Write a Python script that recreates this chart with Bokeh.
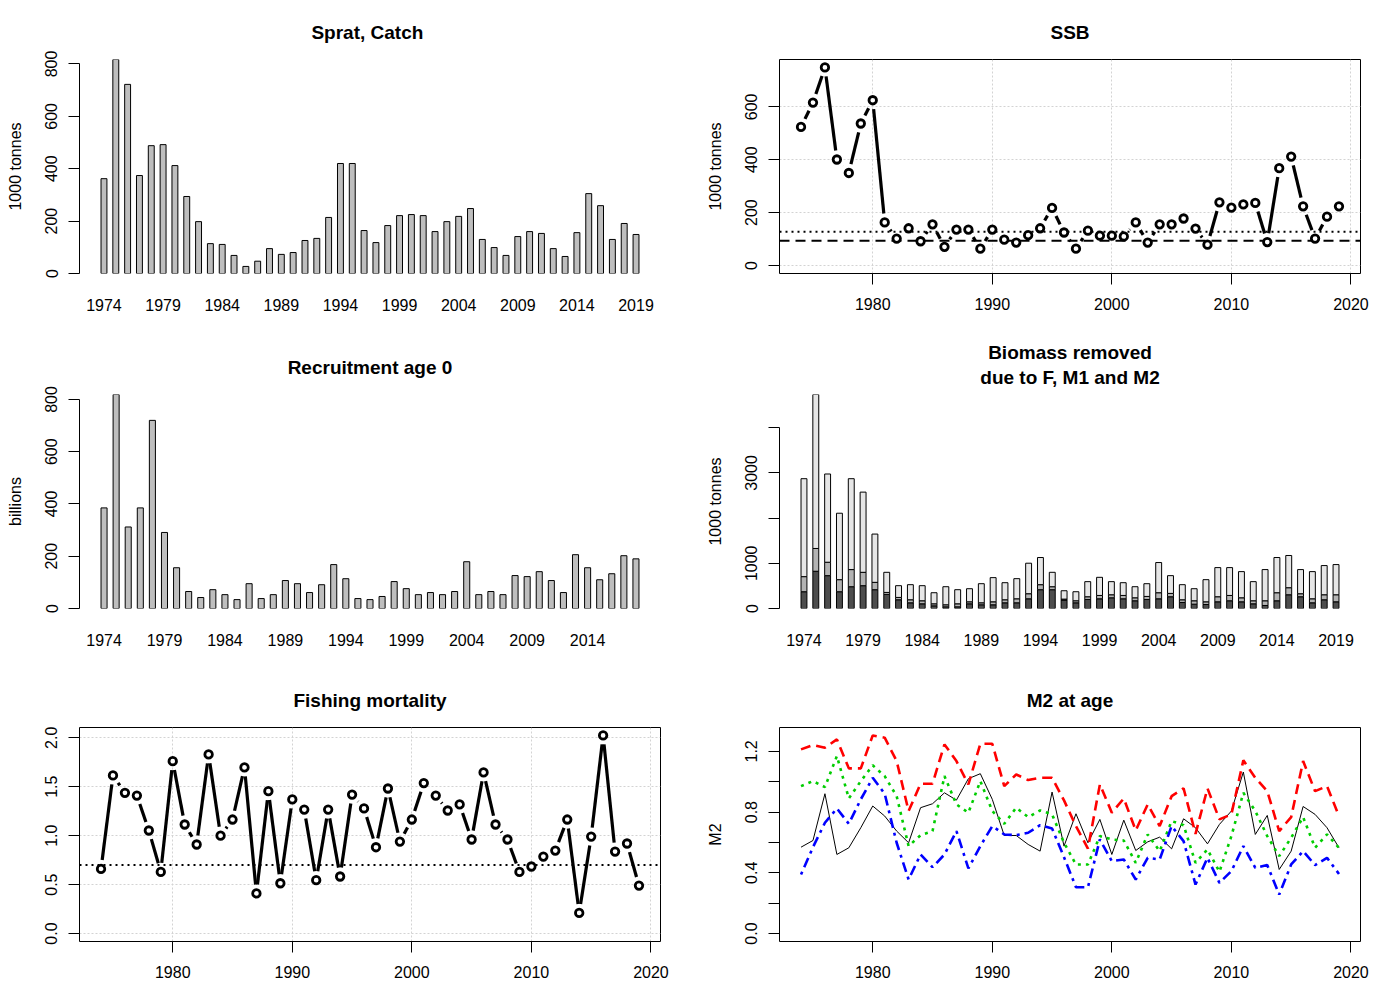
from bokeh.plotting import figure
from bokeh.models import Range1d, FixedTicker, Title
from bokeh.layouts import column, row
from bokeh.embed import file_html
from bokeh.resources import INLINE
import numpy as np

FONT = "Liberation Sans"

years = list(range(1974, 2020))
rec_years = list(range(1974, 2019))

catch = [362, 817, 722, 374, 488, 492, 412, 294, 198, 114, 111, 69, 27, 47, 95, 73,
         80, 126, 134, 214, 420, 420, 164, 118, 183, 221, 225, 221, 160, 198, 218, 248,
         130, 99, 69, 141, 160, 153, 95, 65, 156, 305, 259, 130, 191, 149]

recruit = [385, 819, 312, 385, 720, 291, 156, 65, 42, 72, 53, 34, 95, 38, 53, 107,
           95, 61, 91, 168, 114, 38, 34, 46, 103, 76, 53, 61, 53, 65, 179, 53,
           65, 53, 126, 122, 141, 107, 61, 206, 156, 110, 133, 202, 190]

ssb = [524, 616, 749, 401, 350, 537, 625, 163, 102, 141, 92, 156, 71, 136, 136, 64,
       136, 98, 87, 115, 141, 218, 125, 64, 132, 113, 113, 110, 163, 87, 156, 156,
       178, 140, 79, 239, 219, 231, 237, 89, 368, 412, 224, 102, 185, 224]
ssb_bpa = 128
ssb_blim = 94

removed_F = [371, 824, 727, 371, 482, 505, 416, 312, 193, 126, 104, 59, 37, 37, 104, 82,
             82, 126, 126, 215, 416, 416, 186, 126, 200, 215, 237, 215, 171, 200, 215, 260,
             134, 96, 89, 148, 171, 148, 104, 67, 171, 304, 260, 126, 193, 148]
removed_M1 = [334, 504, 297, 267, 379, 296, 163, 44, 52, 67, 67, 45, 45, 67, 44, 44,
              66, 67, 89, 112, 111, 66, 22, 45, 60, 74, 67, 74, 66, 67, 134, 74,
              59, 75, 59, 112, 118, 89, 67, 104, 178, 156, 67, 89, 111, 156]
removed_M2 = [2167, 3407, 1952, 1470, 2011, 1774, 1068, 445, 260, 334, 334, 245, 400, 312, 290, 423,
              535, 378, 445, 675, 601, 319, 185, 200, 334, 401, 290, 282, 245, 282, 668, 393,
              334, 267, 490, 645, 616, 579, 423, 690, 779, 713, 534, 601, 646, 668]

fbar = [0.66, 1.615, 1.438, 1.41, 1.053, 0.63, 1.761, 1.114, 0.91, 1.83, 1.0, 1.165, 1.697, 0.41, 1.455, 0.514,
        1.37, 1.267, 0.545, 1.267, 0.583, 1.42, 1.278, 0.882, 1.482, 0.94, 1.165, 1.537, 1.41, 1.257, 1.319, 0.961,
        1.646, 1.114, 0.961, 0.63, 0.685, 0.787, 0.848, 1.165, 0.211, 0.991, 2.024, 0.838, 0.92, 0.49]
f_ref = 0.7

m2_black = [0.569, 0.613, 0.921, 0.521, 0.565, 0.697, 0.84, 0.774, 0.675, 0.598, 0.829, 0.855, 0.927, 0.879, 1.02, 1.053,
            0.884, 0.646, 0.646, 0.587, 0.543, 0.932, 0.576, 0.789, 0.598, 0.752, 0.521, 0.747, 0.547, 0.604, 0.635, 0.558,
            0.756, 0.697, 0.591, 0.719, 0.807, 1.064, 0.653, 0.778, 0.422, 0.543, 0.837, 0.785, 0.697, 0.565]
m2_red = [1.213, 1.242, 1.224, 1.279, 1.088, 1.088, 1.305, 1.29, 1.136, 0.807, 0.987, 0.987, 1.246, 1.136, 0.982, 1.25,
          1.25, 0.971, 1.048, 1.011, 1.026, 1.026, 0.877, 0.708, 0.56, 0.982, 0.796, 0.89, 0.679, 0.851, 0.708, 0.905,
          0.956, 0.657, 0.956, 0.752, 0.785, 1.141, 1.026, 0.938, 0.675, 0.767, 1.136, 0.938, 0.971, 0.774]
m2_green = [0.971, 1.004, 0.965, 1.169, 0.89, 1.004, 1.108, 1.037, 0.905, 0.576, 0.648, 0.675, 1.037, 0.851, 0.796, 1.004,
            0.807, 0.723, 0.829, 0.767, 0.811, 0.785, 0.598, 0.455, 0.455, 0.642, 0.62, 0.613, 0.466, 0.653, 0.543, 0.741,
            0.714, 0.466, 0.554, 0.407, 0.642, 0.927, 0.807, 0.642, 0.51, 0.631, 0.767, 0.565, 0.653, 0.565]
m2_blue = [0.389, 0.569, 0.73, 0.824, 0.723, 0.884, 1.026, 0.921, 0.598, 0.356, 0.521, 0.437, 0.521, 0.675, 0.429, 0.576,
           0.708, 0.653, 0.648, 0.664, 0.714, 0.692, 0.503, 0.305, 0.305, 0.62, 0.477, 0.488, 0.356, 0.499, 0.488, 0.708,
           0.609, 0.323, 0.499, 0.334, 0.411, 0.576, 0.433, 0.451, 0.257, 0.455, 0.543, 0.451, 0.499, 0.393]

FW, FH = 581, 214
FIG_W = {0: 700, 1: 699}
FIG_H = 333
LEFT = {0: 79, 1: 79}
TOP = {0: 59, 1: 60, 2: 60}

TITLE_PROPS = Title.properties()


def add_title(p, text, standoff):
    kw = dict(text=text, align="center", text_font=FONT, text_font_size="19px",
              text_font_style="bold", text_color="black", standoff=standoff,
              text_line_height=1.2)
    if "text_align" in TITLE_PROPS:
        kw["text_align"] = "center"
    p.add_layout(Title(**kw), "above")


def make(col, rw, xr, yr, title, box):
    left = LEFT[col]
    top = TOP[rw]
    p = figure(frame_width=FW, frame_height=FH,
               x_range=Range1d(*xr), y_range=Range1d(*yr),
               output_backend="svg", toolbar_location=None,
               min_border_left=left, min_border_right=FIG_W[col] - FW - left,
               min_border_top=top, min_border_bottom=FIG_H - FH - top,
               title=None)
    p.background_fill_color = "white"
    p.border_fill_color = "white"
    p.outline_line_color = "black" if box else None
    p.outline_line_width = 1
    if len(title) == 1:
        add_title(p, title[0], 34)
    else:
        add_title(p, "\n".join(title), 13)
    for ax in (p.xaxis[0], p.yaxis[0]):
        ax.major_label_text_font = FONT
        ax.major_label_text_font_size = "16px"
        ax.major_label_text_color = "black"
        ax.axis_label_text_font = FONT
        ax.axis_label_text_font_size = "16px"
        ax.axis_label_text_font_style = "normal"
        ax.axis_label_text_color = "black"
        ax.minor_tick_line_color = None
        ax.major_tick_in = 0
        ax.major_tick_out = 11
        ax.major_tick_line_color = "black"
        ax.axis_line_color = "black"
    p.yaxis.major_label_orientation = "vertical"
    p.yaxis.major_label_standoff = 11
    p.yaxis.axis_label_standoff = 19
    p.xaxis.major_label_standoff = 13
    p.xgrid.grid_line_color = None
    p.ygrid.grid_line_color = None
    return p


def bar_xr(n):
    # barplot layout (space = 1): extent in year units
    lo = 1 - 0.04 * (2 * n - 1)
    hi = 2 * n + 0.04 * (2 * n - 1)
    return (1974 + (lo - 1.5) / 2, 1974 + (hi - 1.5) / 2)


def bar_xaxis(p, ticks):
    p.xaxis.ticker = FixedTicker(ticks=ticks)
    p.xaxis.axis_line_color = None
    p.xaxis.major_tick_line_color = None
    p.xaxis.major_tick_out = 0
    p.xaxis.major_label_standoff = 25


def line_xr():
    lo, hi = min(years), max(years)
    e = 0.04 * (hi - lo)
    return (lo - e, hi + e)


def line_yr(vmax):
    return (-0.04 * vmax, 1.04 * vmax)


def box_axes(p, yticks, grid):
    p.xaxis.ticker = FixedTicker(ticks=[1980, 1990, 2000, 2010, 2020])
    p.xaxis.bounds = (1980, 2020)
    p.yaxis.ticker = FixedTicker(ticks=yticks)
    p.yaxis.bounds = (yticks[0], yticks[-1])
    if grid:
        for g in (p.xgrid, p.ygrid):
            g.grid_line_color = "#d3d3d3"
            g.grid_line_dash = "2 2"
            g.grid_line_width = 1


def type_b(p, xs, ys, xr, yr, gap=9.0, lw=3.2):
    sx = FW / (xr[1] - xr[0])
    sy = FH / (yr[1] - yr[0])
    x = np.asarray(xs, float)
    y = np.asarray(ys, float)
    dxp = np.diff(x) * sx
    dyp = np.diff(y) * sy
    L = np.hypot(dxp, dyp)
    keep = L > 2 * gap
    ux = dxp / L
    uy = dyp / L
    x0 = x[:-1] + gap * ux / sx
    y0 = y[:-1] + gap * uy / sy
    x1 = x[1:] - gap * ux / sx
    y1 = y[1:] - gap * uy / sy
    p.segment(x0[keep], y0[keep], x1[keep], y1[keep], line_color="black", line_width=lw)
    p.scatter(xs, ys, marker="circle", size=7.5, fill_color="white", line_color="black", line_width=2.8)


# ---- Panel 1: catch
xr1 = bar_xr(len(catch))
yr1 = (0, max(catch))
p1 = make(0, 0, xr1, yr1, ["Sprat,  Catch"], False)
p1.vbar(x=years, top=catch, bottom=0, width=0.5, fill_color="#bebebe", line_color="black", line_width=1)
bar_xaxis(p1, years[::5])
p1.yaxis.ticker = FixedTicker(ticks=[0, 200, 400, 600, 800])
p1.yaxis.bounds = (0, 800)
p1.yaxis.axis_label = "1000 tonnes"

# ---- Panel 2: SSB
xr2 = line_xr()
yr2 = line_yr(max(ssb))
p2 = make(1, 0, xr2, yr2, ["SSB"], True)
box_axes(p2, [0, 200, 400, 600], True)
p2.line(x=[xr2[0], xr2[1]], y=[ssb_bpa, ssb_bpa], line_color="black", line_width=2, line_dash="2 4")
p2.line(x=[xr2[0], xr2[1]], y=[ssb_blim, ssb_blim], line_color="black", line_width=2, line_dash="10 6")
type_b(p2, years, ssb, xr2, yr2)
p2.yaxis.axis_label = "1000 tonnes"

# ---- Panel 3: recruitment
xr3 = bar_xr(len(recruit))
yr3 = (0, max(recruit))
p3 = make(0, 1, xr3, yr3, ["Recruitment age 0"], False)
p3.vbar(x=rec_years, top=recruit, bottom=0, width=0.5, fill_color="#bebebe", line_color="black", line_width=1)
bar_xaxis(p3, rec_years[::5])
p3.yaxis.ticker = FixedTicker(ticks=[0, 200, 400, 600, 800])
p3.yaxis.bounds = (0, 800)
p3.yaxis.axis_label = "billions"

# ---- Panel 4: biomass removed
tot = [a + b + c for a, b, c in zip(removed_F, removed_M1, removed_M2)]
fm1 = [a + b for a, b in zip(removed_F, removed_M1)]
xr4 = bar_xr(len(tot))
yr4 = (0, max(tot))
p4 = make(1, 1, xr4, yr4, ["Biomass removed", "due to F, M1 and M2"], False)
p4.vbar(x=years, top=removed_F, bottom=0, width=0.5, fill_color="#4d4d4d", line_color="black", line_width=1)
p4.vbar(x=years, top=fm1, bottom=removed_F, width=0.5, fill_color="#b3b3b3", line_color="black", line_width=1)
p4.vbar(x=years, top=tot, bottom=fm1, width=0.5, fill_color="#e6e6e6", line_color="black", line_width=1)
bar_xaxis(p4, years[::5])
p4.yaxis.ticker = FixedTicker(ticks=[0, 1000, 2000, 3000, 4000])
p4.yaxis.bounds = (0, 4000)
p4.yaxis.major_label_overrides = {2000: "", 4000: ""}
p4.yaxis.axis_label = "1000 tonnes"

# ---- Panel 5: fishing mortality
xr5 = line_xr()
yr5 = line_yr(max(fbar))
p5 = make(0, 2, xr5, yr5, ["Fishing mortality"], True)
box_axes(p5, [0.0, 0.5, 1.0, 1.5, 2.0], True)
p5.yaxis.major_label_overrides = {0: "0.0", 0.5: "0.5", 1: "1.0", 1.5: "1.5", 2: "2.0"}
p5.line(x=[xr5[0], xr5[1]], y=[f_ref, f_ref], line_color="black", line_width=2, line_dash="2 4")
type_b(p5, years, fbar, xr5, yr5)

# ---- Panel 6: M2 at age
xr6 = line_xr()
yr6 = line_yr(max(max(m2_black), max(m2_red), max(m2_green), max(m2_blue)))
p6 = make(1, 2, xr6, yr6, ["M2 at age"], True)
box_axes(p6, [0.0, 0.2, 0.4, 0.6, 0.8, 1.0, 1.2], False)
p6.yaxis.major_label_overrides = {0: "0.0", 0.2: "", 0.4: "0.4", 0.6: "", 0.8: "0.8", 1: "", 1.2: "1.2"}
p6.line(years, m2_black, line_color="black", line_width=1)
p6.line(years, m2_red, line_color="#ff0000", line_width=2.6, line_dash="10 6")
p6.line(years, m2_green, line_color="#00cd00", line_width=2.6, line_dash="3 5")
p6.line(years, m2_blue, line_color="#0000ff", line_width=2.6, line_dash="3 5 10 5")
p6.yaxis.axis_label = "M2"

layout = column(row(p1, p2), row(p3, p4), row(p5, p6))
open("out.html", "w").write(file_html(layout, INLINE))
